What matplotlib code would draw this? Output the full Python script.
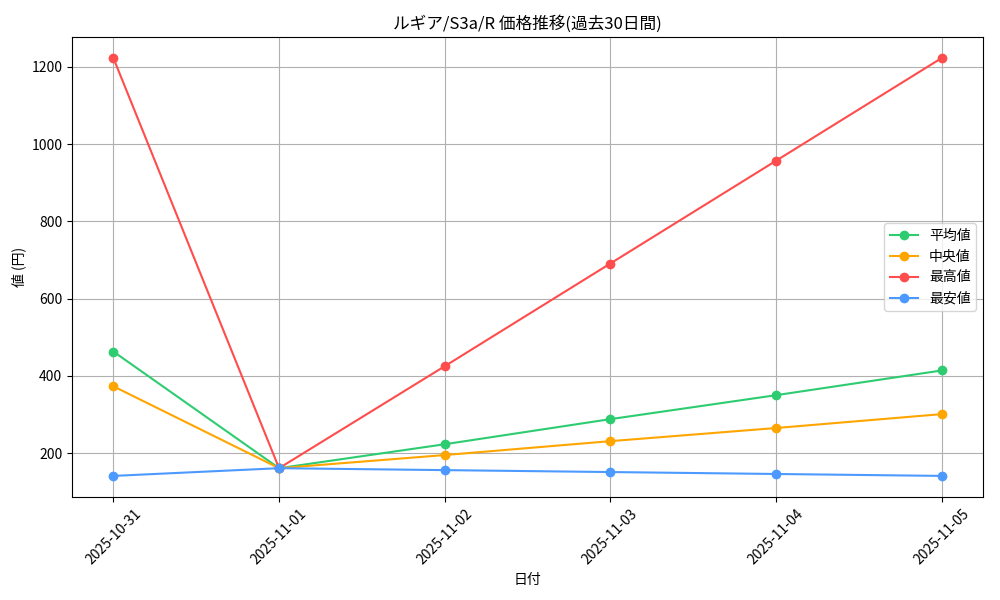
import matplotlib
matplotlib.use("Agg")
import matplotlib.pyplot as plt

plt.rcParams['font.family'] = ['Noto Sans CJK JP', 'DejaVu Sans']

dates = ["2025-10-31", "2025-11-01", "2025-11-02", "2025-11-03", "2025-11-04", "2025-11-05"]
avg_vals = [463, 161, 223, 288, 350, 414]
med_vals = [373, 161, 195, 231, 265, 301]
max_vals = [1223, 161, 425, 691, 957, 1223]
min_vals = [141, 161, 156, 151, 146, 141]

fig, ax = plt.subplots(figsize=(10, 6), dpi=100)
ax.plot(dates, avg_vals, marker='o', color='#2ecc71', label='平均値')
ax.plot(dates, med_vals, marker='o', color='#ffa500', label='中央値')
ax.plot(dates, max_vals, marker='o', color='#ff4c4c', label='最高値')
ax.plot(dates, min_vals, marker='o', color='#4c9aff', label='最安値')

ax.set_title('ルギア/S3a/R 価格推移(過去30日間)')
ax.set_xlabel('日付')
ax.set_ylabel('値 (円)')
ax.grid(True)
ax.legend(loc='center right')
plt.xticks(rotation=45)
fig.subplots_adjust(left=0.072, right=0.983, top=0.938, bottom=0.172)
plt.savefig('out.png')
